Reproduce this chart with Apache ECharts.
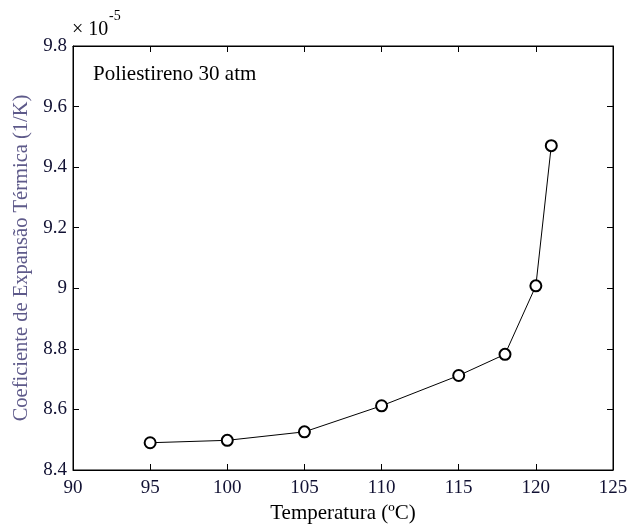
<!DOCTYPE html>
<html><head><meta charset="utf-8">
<script src="https://cdn.jsdelivr.net/npm/echarts@6/dist/echarts.min.js"></script>
<style>html,body{margin:0;padding:0;background:#fff}#c{width:627px;height:524px}</style>
</head><body><div id="c"></div>
<script>
var temperatures = [95, 100, 105, 110, 115, 118, 120, 121];
var coefficients = [8.490, 8.498, 8.526, 8.612, 8.712, 8.782, 9.008, 9.471];
var xTicks = [90, 95, 100, 105, 110, 115, 120, 125];
var yTicks = [8.4, 8.6, 8.8, 9, 9.2, 9.4, 9.6, 9.8];

var FONT = 'Liberation Serif';
var chart = echarts.init(document.getElementById('c'));
var data = temperatures.map(function(t, i){ return [t, coefficients[i]]; });
var tickStyle = {show:true, inside:true, length:6, lineStyle:{color:'#000', width:1}};
chart.setOption({
  animation:false,
  grid:{left:73, right:14, top:46, bottom:54, show:true, borderColor:'#000', borderWidth:1,
        containLabel:false, outerBoundsMode:'none'},
  xAxis:[{
    type:'value', min:90, max:125, interval:5, position:'bottom',
    axisLine:{show:true, lineStyle:{color:'#000'}},
    axisTick:tickStyle, splitLine:{show:false},
    axisLabel:{color:'#111133', fontFamily:FONT, fontSize:19, margin:9},
    name:'Temperatura (ºC)', nameLocation:'middle', nameGap:31,
    nameTextStyle:{color:'#000', fontFamily:FONT, fontSize:21}
  },{
    type:'value', min:90, max:125, interval:5, position:'top',
    axisLine:{show:true, lineStyle:{color:'#000'}},
    axisTick:tickStyle, splitLine:{show:false}, axisLabel:{show:false}
  }],
  yAxis:[{
    type:'value', min:8.4, max:9.8, interval:0.2, position:'left',
    axisLine:{show:true, lineStyle:{color:'#000'}},
    axisTick:tickStyle, splitLine:{show:false},
    axisLabel:{color:'#111133', fontFamily:FONT, fontSize:19, margin:6,
      formatter:function(v){ return String(+v.toFixed(1)); }},
    name:'Coeficiente de Expansão Térmica (1/K)', nameLocation:'middle', nameGap:39,
    nameRotate:90,
    nameTextStyle:{color:'#5e5a8a', fontFamily:FONT, fontSize:20.5}
  },{
    type:'value', min:8.4, max:9.8, interval:0.2, position:'right',
    axisLine:{show:true, lineStyle:{color:'#000'}},
    axisTick:tickStyle, splitLine:{show:false}, axisLabel:{show:false}
  }],
  graphic:[
    {type:'text', left:93, top:64, style:{text:'Poliestireno 30 atm', font:'21px "Liberation Serif"', fill:'#000'}},
    {type:'text', left:72, top:20, style:{text:'× 10', font:'20px "Liberation Serif"', fill:'#000'}},
    {type:'text', left:109, top:9, style:{text:'-5', font:'14px "Liberation Serif"', fill:'#000'}}
  ],
  series:[{
    type:'line', data:data, xAxisIndex:0, yAxisIndex:0,
    symbol:'emptyCircle', symbolSize:11,
    lineStyle:{color:'#000', width:1},
    itemStyle:{color:'#000', borderColor:'#222', borderWidth:0.7}
  }]
});
</script></body></html>
